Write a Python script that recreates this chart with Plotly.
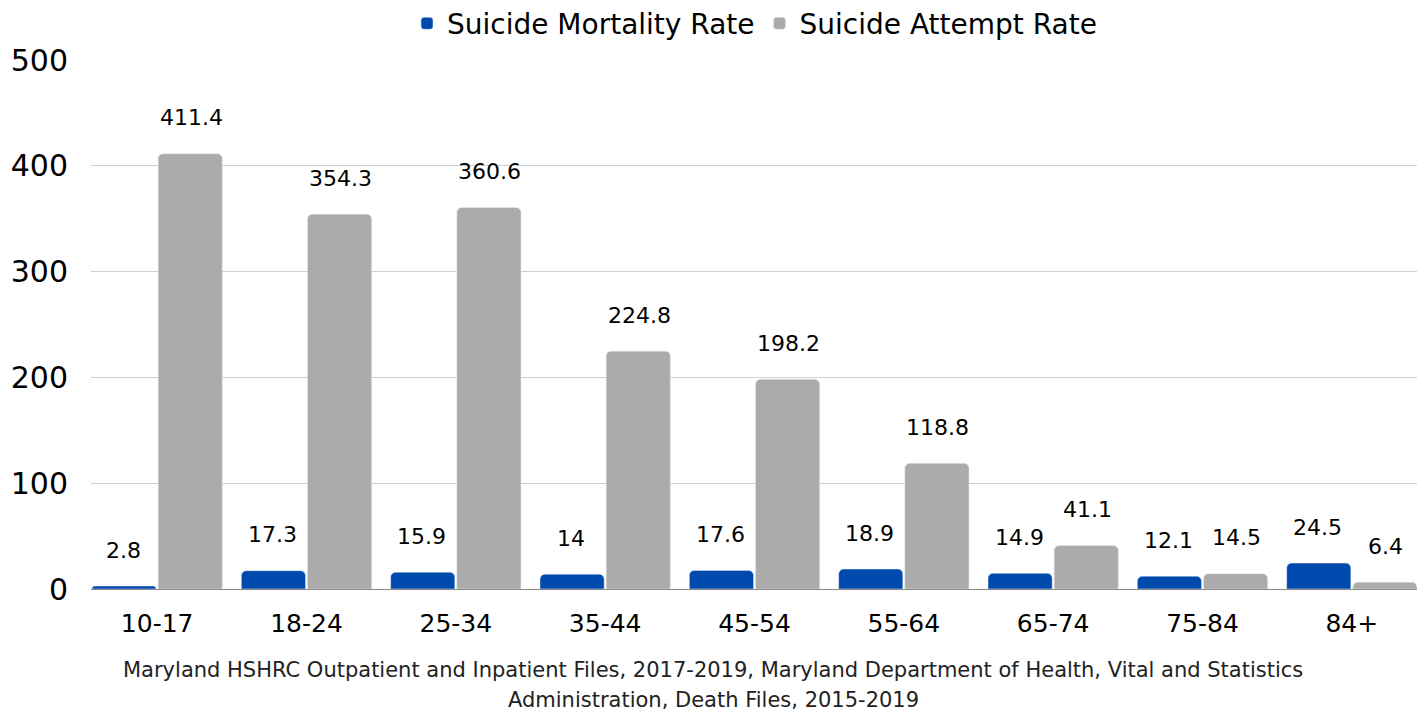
import plotly.graph_objects as go

# age groups and rates (per 100,000)
age_groups = ["10-17", "18-24", "25-34", "35-44", "45-54", "55-64", "65-74", "75-84", "84+"]
mortality_rate = [2.8, 17.3, 15.9, 14, 17.6, 18.9, 14.9, 12.1, 24.5]
attempt_rate = [411.4, 354.3, 360.6, 224.8, 198.2, 118.8, 41.1, 14.5, 6.4]
y_ticks = [0, 100, 200, 300, 400, 500]

source_lines = [
    "Maryland HSHRC Outpatient and Inpatient Files, 2017-2019, Maryland Department of Health, Vital and Statistics",
    "Administration, Death Files, 2015-2019",
]

BLUE = "#004AAD"
GRAY = "#ABABAB"
FONT = "DejaVu Sans"
BARGAP = 0.114

fig = go.Figure()
fig.add_trace(go.Bar(x=age_groups, y=mortality_rate, name="Suicide Mortality Rate",
                     marker=dict(color=BLUE, cornerradius=5)))
fig.add_trace(go.Bar(x=age_groups, y=attempt_rate, name="Suicide Attempt Rate",
                     marker=dict(color=GRAY, cornerradius=5)))

# value labels floating above each bar
for grp, m, a in zip(age_groups, mortality_rate, attempt_rate):
    fig.add_annotation(x=grp, y=m, text=f"{m:g}", showarrow=False, xshift=-34, yshift=36,
                       font=dict(size=22, color="black", family=FONT))
    fig.add_annotation(x=grp, y=a, text=f"{a:g}", showarrow=False, xshift=34, yshift=36,
                       font=dict(size=22, color="black", family=FONT))

for line, yy in zip(source_lines, [-0.153, -0.209]):
    fig.add_annotation(text=line, xref="paper", yref="paper", x=0.469, y=yy,
                       xanchor="center", yanchor="middle", showarrow=False,
                       font=dict(size=21, color="#222", family=FONT))

# page body adds an 8px offset, margins compensate for it
fig.update_layout(
    width=1425, height=711,
    margin=dict(l=83, r=15, t=52, b=130),
    paper_bgcolor="white", plot_bgcolor="white",
    font=dict(family=FONT, color="black"),
    barmode="group", bargap=BARGAP, bargroupgap=0.03,
    showlegend=True,
    legend=dict(orientation="h", x=0.5, xanchor="center", yref="container", y=0.978, yanchor="middle",
                font=dict(size=28), itemwidth=30),
)
fig.update_xaxes(tickfont=dict(size=25, family=FONT), showline=True, linecolor="#888",
                 linewidth=1, ticks="", ticklabelstandoff=12,
                 range=[-0.5 + BARGAP / 2, len(age_groups) - 0.5 - BARGAP / 2])
fig.update_yaxes(range=[0, 500], tickvals=y_ticks, tickfont=dict(size=30, family=FONT),
                 showgrid=True, gridcolor="#CFCFCF", zeroline=False, ticklabelstandoff=22,
                 automargin=False)

fig.write_html("out.html")
